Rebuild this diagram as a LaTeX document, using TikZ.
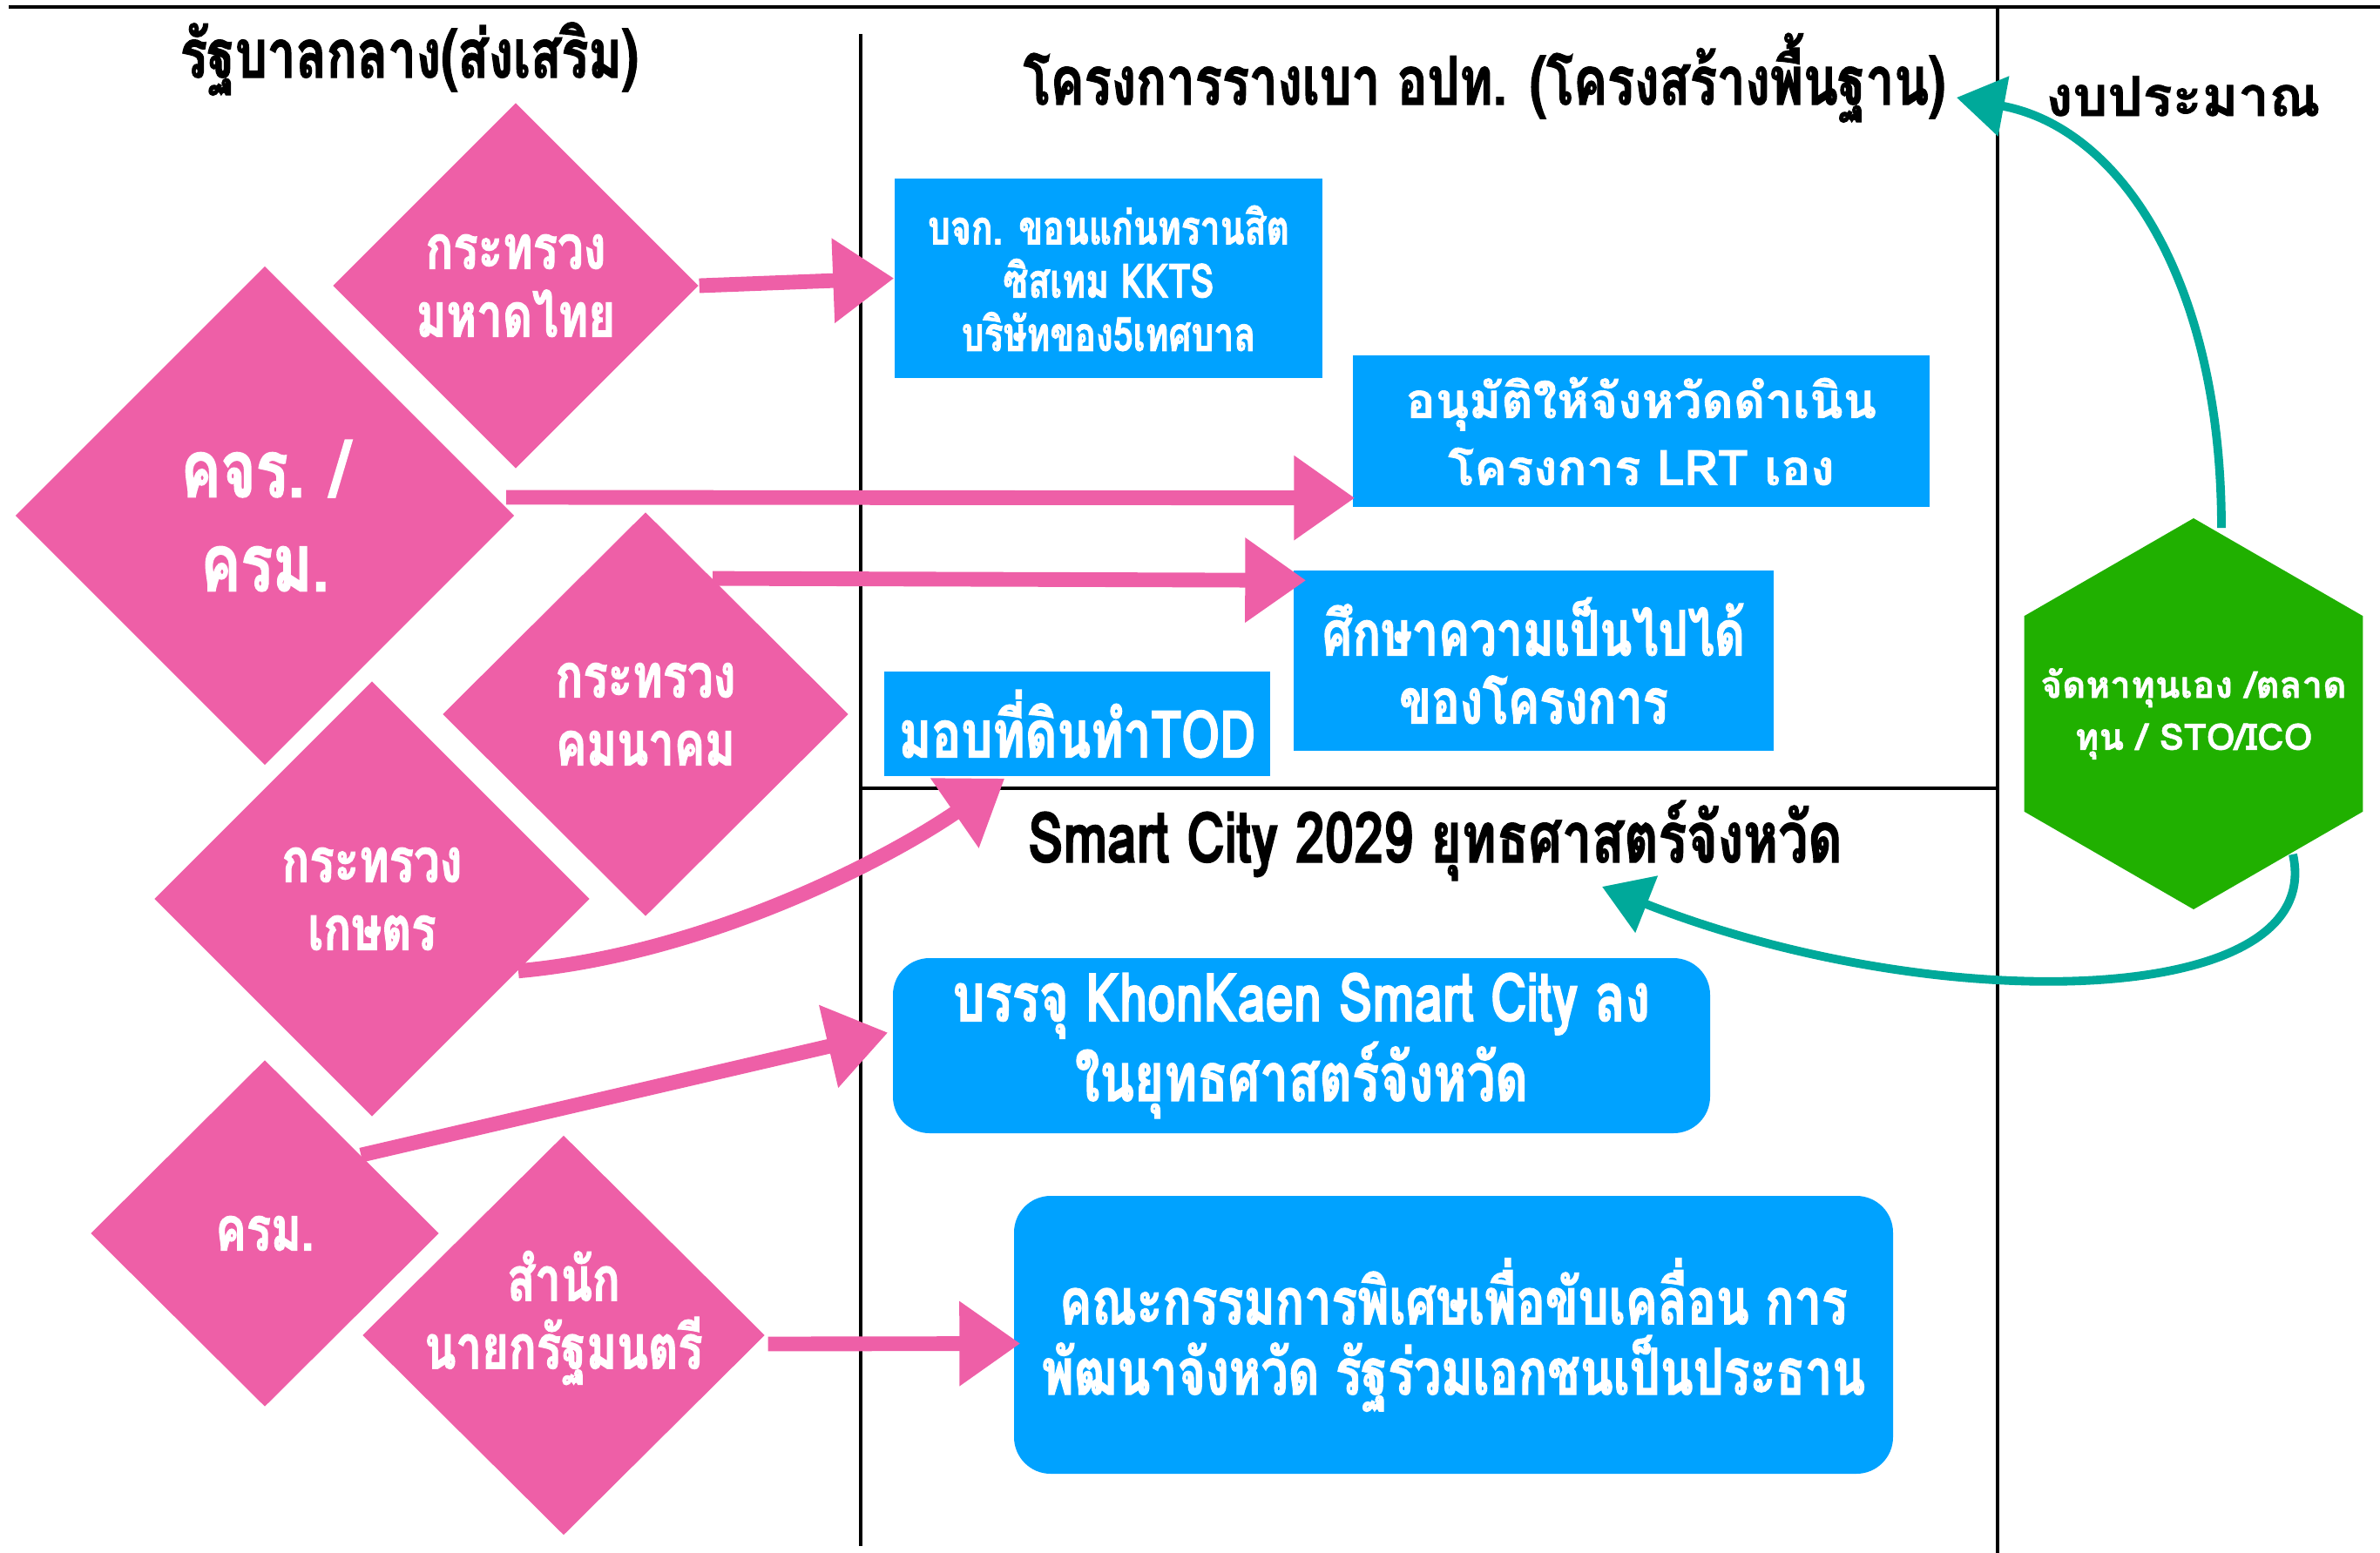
\documentclass[tikz,border=0pt]{standalone}
\usepackage{fontspec}
\newfontfamily\thaiwide[Script=Thai,BoldFeatures={FakeBold=1.2}]{Loma}
\newfontfamily\thainarrow[Script=Thai,FakeStretch=0.75,BoldFeatures={FakeBold=1.6}]{Loma}
\usetikzlibrary{shapes.geometric,arrows.meta,calc}
\definecolor{dpink}{HTML}{EE5FA7}
\definecolor{dblue}{HTML}{00A2FF}
\definecolor{dgreen}{HTML}{20B000}
\definecolor{dteal}{HTML}{00A99A}
\tikzset{
  divider/.style={line width=1.4pt,black},
  headtext/.style={inner sep=0pt,font=\thainarrow\bfseries\fontsize{22}{26}\selectfont},
  pinkdia/.style={diamond,fill=dpink,inner sep=0pt,aspect=1},
  dlabel/.style={text=white,align=center,inner sep=0pt,font=\thainarrow\bfseries\fontsize{20}{22.2}\selectfont},
  bluebox/.style={rectangle,fill=dblue,text=white,align=center,inner sep=0pt},
  bluebubble/.style={bluebox,rounded corners=0.42cm},
  hexfund/.style={regular polygon,regular polygon sides=6,shape border rotate=30,fill=dgreen,inner sep=0pt},
  hexlabel/.style={text=white,align=center,inner sep=0pt,font=\thaiwide\bfseries\fontsize{12}{17}\selectfont},
  pinkarrow/.style={draw=dpink,line width=4.8pt,-{Triangle[length=7mm,width=9.3mm]}},
  tealarrow/.style={draw=dteal,line width=2.8pt,-{Triangle[length=5.5mm,width=6.8mm]}}
}
\begin{document}
\begin{tikzpicture}[x=1cm,y=-1cm]
  \useasboundingbox (0,0) rectangle (27.32,17.83);

  % frame
  \draw[divider] (0.1,0.08) -- (27.32,0.08);
  \draw[divider] (9.88,0.39) -- (9.88,17.75);
  \draw[divider] (22.93,0.08) -- (22.93,17.83);
  \draw[divider] (9.88,9.05) -- (22.93,9.05);

  % column heads
  \node[headtext,anchor=base] (govt) at (4.70,0.89) {รัฐบาลกลาง(ส่งเสริม)};
  \node[headtext,anchor=base] (lrtproj) at (17.04,1.20) {โครงการรางเบา อปท. (โครงสร้างพื้นฐาน)};
  \node[inner sep=0pt,anchor=base,font=\thaiwide\bfseries\fontsize{18}{22}\selectfont] (budget) at (25.06,1.33) {งบประมาณ};
  \node[headtext,anchor=base,font=\thainarrow\bfseries\fontsize{23}{26}\selectfont] (smarttitle) at (16.475,9.90) {Smart City 2029 ยุทธศาสตร์จังหวัด};

  % central government
  \node[pinkdia,minimum width=4.2cm,minimum height=4.2cm,label={[dlabel]center:{กระทรวง\\มหาดไทย}}] (mahadthai) at (5.92,3.28) {};
  \node[pinkdia,minimum width=5.73cm,minimum height=5.73cm,
    label={[dlabel,font=\thainarrow\bfseries\fontsize{26}{30.7}\selectfont]center:{คจร. /\\ครม.}}] (cjr) at (3.04,5.92) {};
  \node[pinkdia,minimum width=4.66cm,minimum height=4.64cm,label={[dlabel]center:{กระทรวง\\คมนาคม}}] (transport) at (7.41,8.20) {};
  \node[pinkdia,minimum width=5.0cm,minimum height=5.0cm,label={[dlabel]center:{กระทรวง\\เกษตร}}] (agri) at (4.27,10.32) {};
  \node[pinkdia,minimum width=4.0cm,minimum height=3.98cm,label={[dlabel]center:{ครม.}}] (crm) at (3.04,14.16) {};
  \node[pinkdia,minimum width=4.62cm,minimum height=4.59cm,label={[dlabel,yshift=0.2cm]center:{สำนัก\\นายกรัฐมนตรี}}] (pmo) at (6.47,15.33) {};

  % light rail project
  \node[bluebox,minimum width=4.91cm,minimum height=2.29cm,font=\thainarrow\bfseries\fontsize{15.5}{17.4}\selectfont]
    (kkts) at (12.725,3.195) {บจก. ขอนแก่นทรานสิต\\ซิสเทม KKTS\\บริษัทของ5เทศบาล};
  \node[bluebox,minimum width=6.62cm,minimum height=1.74cm,font=\thaiwide\bfseries\fontsize{16}{21.9}\selectfont]
    (lrt) at (18.84,4.95) {อนุมัติให้จังหวัดดำเนิน\\โครงการ LRT เอง};
  \node[bluebox,minimum width=5.51cm,minimum height=2.07cm,font=\thainarrow\bfseries\fontsize{20.5}{22.2}\selectfont]
    (study) at (17.605,7.585) {ศึกษาความเป็นไปได้\\ของโครงการ};
  \node[bluebox,minimum width=4.43cm,minimum height=1.20cm,font=\thainarrow\bfseries\fontsize{21.5}{24}\selectfont]
    (tod) at (12.365,8.31) {มอบที่ดินทำTOD};

  % smart city
  \node[bluebubble,minimum width=9.38cm,minimum height=2.01cm,font=\thainarrow\bfseries\fontsize{22}{22.5}\selectfont]
    (smart) at (14.94,12.005) {บรรจุ KhonKaen Smart City ลง\\ในยุทธศาสตร์จังหวัด};
  \node[bluebubble,minimum width=10.09cm,minimum height=3.19cm,font=\thainarrow\bfseries\fontsize{21}{23}\selectfont]
    (committee) at (16.685,15.325) {คณะกรรมการพิเศษเพื่อขับเคลื่อน การ\\พัฒนาจังหวัด รัฐร่วมเอกชนเป็นประธาน};

  % budget
  \node[hexfund,minimum size=4.49cm,label={[hexlabel]center:{จัดหาทุนเอง /ตลาด\\ทุน / STO/ICO}}] (fund) at (25.18,8.195) {};

  % arrows
  \draw[pinkarrow] (mahadthai.east) -- (kkts.west);
  \draw[pinkarrow] ($(cjr.east)+(-0.1,-0.21)$) -- ($(lrt.south west)+(0.03,-0.11)$);
  \draw[pinkarrow] ($(transport.north)!0.33!(transport.east)$) -- ($(study.north west)+(0.15,0.12)$);
  \draw[pinkarrow] ($(agri.east)!0.33!(agri.south)$) .. controls +(2.2,-0.2) and +(-1.3,0.9) .. ($(tod.south west)+(1.39,0.02)$);
  \draw[pinkarrow] ($(crm.north)!0.55!(crm.east)$) -- ($(smart.west)+(-0.05,-0.15)$);
  \draw[pinkarrow] ($(pmo.east)+(0.03,0.1)$) -- ($(committee.west)+(0.08,0.1)$);

  \draw[tealarrow] ($(fund.north)+(0.32,0.12)$) .. controls +(0,-2.8) and +(1.9,0.35) .. ($(lrtproj.base east)+(0.12,-0.08)$);
  \draw[tealarrow] ($(fund.south)+(1.14,-0.64)$) .. controls +(0.4,1.8) and +(3.8,1.5) .. ($(smarttitle.base)+(1.915,0.28)$);
\end{tikzpicture}
\end{document}
